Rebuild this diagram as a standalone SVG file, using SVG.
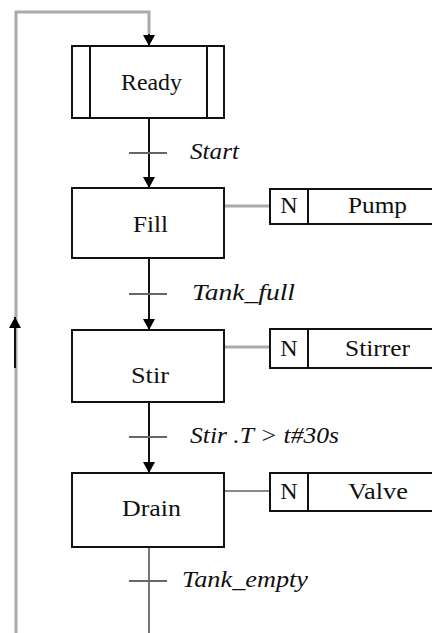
<svg xmlns="http://www.w3.org/2000/svg" width="432" height="633" viewBox="0 0 432 633">
<defs>
<marker id="ah" markerWidth="12" markerHeight="12" refX="11" refY="6" orient="auto" markerUnits="userSpaceOnUse" viewBox="0 0 12 12">
<path d="M0,0 L11,6 L0,12 Z" fill="#000"/>
</marker>
<style>
.box{fill:#fff;stroke:#111;stroke-width:2}
.lbl{font-family:'Liberation Serif','DejaVu Serif',serif;font-size:24px;fill:#111;text-anchor:middle}
.tl{font-family:'Liberation Serif','DejaVu Serif',serif;font-size:24px;font-style:italic;fill:#111}
.link{stroke:#111;stroke-width:2;fill:none}
.gray{stroke:#aaa;stroke-width:3;fill:none}
.bar{stroke:#666;stroke-width:2}
</style>
</defs>
<g id="connectors">
<path class="gray" d="M16,633 V12 H149 V34"/>
<path d="M149,34 L149,46" class="link" marker-end="url(#ah)"/>
<path class="link" d="M15,368 V317" marker-end="url(#ah)"/>
<path class="link" d="M149,118 V188" marker-end="url(#ah)"/>
<path class="link" d="M149,258 V330" marker-end="url(#ah)"/>
<path class="link" d="M149,402 V473" marker-end="url(#ah)"/>
<path class="gray" d="M149,547 V633" style="stroke:#777;stroke-width:2"/>
<line class="gray" x1="224" y1="206" x2="270" y2="206"/>
<line class="gray" x1="224" y1="347" x2="270" y2="347"/>
<line class="gray" x1="224" y1="491" x2="270" y2="491" style="stroke:#888;stroke-width:2"/>
<line class="bar" x1="129" y1="153" x2="167" y2="153"/>
<line class="bar" x1="129" y1="294" x2="167" y2="294"/>
<line class="bar" x1="129" y1="437" x2="167" y2="437"/>
<line class="bar" x1="129" y1="581" x2="167" y2="581"/>
<text class="tl" x="190" y="159" textLength="49" lengthAdjust="spacingAndGlyphs">Start</text>
<text class="tl" x="192" y="300" textLength="103" lengthAdjust="spacingAndGlyphs">Tank_full</text>
<text class="tl" x="190" y="443" textLength="149" lengthAdjust="spacingAndGlyphs">Stir .T &gt; t#30s</text>
<text class="tl" x="182" y="587" textLength="126" lengthAdjust="spacingAndGlyphs">Tank_empty</text>
</g>
<g id="ready">
<rect class="box" x="72" y="46" width="152" height="72"/>
<line class="link" x1="90" y1="46" x2="90" y2="118"/>
<line class="link" x1="207" y1="46" x2="207" y2="118"/>
<text class="lbl" x="151.5" y="90" textLength="61" lengthAdjust="spacingAndGlyphs">Ready</text>
</g>
<g id="fill">
<rect class="box" x="72" y="188" width="152" height="70"/>
<text class="lbl" x="150.5" y="232" textLength="35" lengthAdjust="spacingAndGlyphs">Fill</text>
</g>
<g id="stir">
<rect class="box" x="72" y="330" width="152" height="72"/>
<text class="lbl" x="150" y="383" textLength="38" lengthAdjust="spacingAndGlyphs">Stir</text>
</g>
<g id="drain">
<rect class="box" x="72" y="473" width="152" height="74"/>
<text class="lbl" x="151.5" y="516" textLength="59" lengthAdjust="spacingAndGlyphs">Drain</text>
</g>
<g id="pump">
<rect class="box" x="270" y="189" width="170" height="35"/>
<line class="link" x1="308" y1="189" x2="308" y2="224"/>
<text class="lbl" x="289" y="213">N</text>
<text class="lbl" x="377.5" y="213" textLength="59" lengthAdjust="spacingAndGlyphs">Pump</text>
</g>
<g id="stirrer">
<rect class="box" x="270" y="329" width="170" height="39"/>
<line class="link" x1="308" y1="329" x2="308" y2="368"/>
<text class="lbl" x="289" y="356">N</text>
<text class="lbl" x="377.5" y="356" textLength="65" lengthAdjust="spacingAndGlyphs">Stirrer</text>
</g>
<g id="valve">
<rect class="box" x="270" y="473" width="170" height="38"/>
<line class="link" x1="308" y1="473" x2="308" y2="511"/>
<text class="lbl" x="289" y="499">N</text>
<text class="lbl" x="378" y="499" textLength="60" lengthAdjust="spacingAndGlyphs">Valve</text>
</g>
</svg>
